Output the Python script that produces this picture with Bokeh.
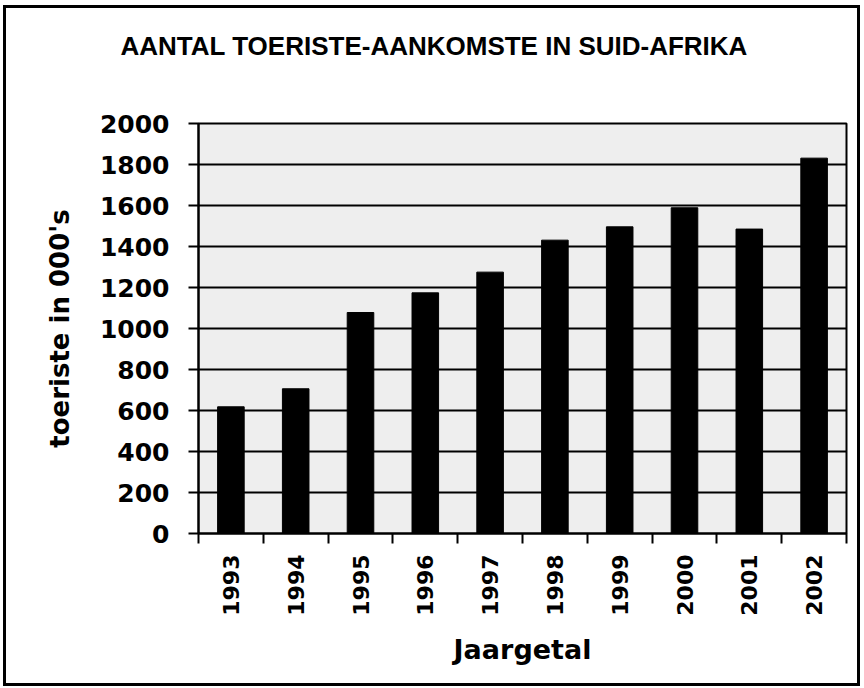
import math
from bokeh.plotting import figure
from bokeh.models import Range1d, FixedTicker, ColumnDataSource
from bokeh.embed import file_html
from bokeh.resources import INLINE

# ---- data ----
years = ["1993", "1994", "1995", "1996", "1997", "1998", "1999", "2000", "2001", "2002"]
tourists = [618, 706, 1078, 1174, 1275, 1431, 1496, 1589, 1485, 1831]
y_ticks = [0, 200, 400, 600, 800, 1000, 1200, 1400, 1600, 1800, 2000]
title_text = "AANTAL TOERISTE-AANKOMSTE IN SUID-AFRIKA"
x_label = "Jaargetal"
y_label = "toeriste in 000's"

n = len(years)
centers = [i + 0.5 for i in range(n)]
boundaries = list(range(n + 1))

src = ColumnDataSource(dict(x=centers, top=tourists, year=years))

p = figure(width=851, height=675,
           x_range=Range1d(0, n), y_range=Range1d(0, 2000),
           output_backend="svg", toolbar_location=None,
           min_border_left=192, min_border_right=11,
           min_border_top=115, min_border_bottom=150)

p.background_fill_color = "#eeeeee"
p.border_fill_color = "white"
p.outline_line_color = "black"
p.outline_line_width = 2

p.vbar(x="x", top="top", bottom=0, width=0.41, source=src,
       fill_color="black", line_color="black")

# title: two blank lines below the text lift it well above the frame
p.title.text = title_text + "\n \n "
p.title.text_font = "Liberation Sans"
p.title.text_font_style = "bold"
p.title.text_font_size = "26px"
p.title.text_color = "black"
p.title.align = "left"
p.title.offset = -78
p.title.standoff = 6

# x axis
xa = p.xaxis[0]
xa.ticker = FixedTicker(ticks=centers, minor_ticks=boundaries)
xa.major_label_overrides = {c: y for c, y in zip(centers, years)}
xa.major_label_orientation = math.pi / 2
xa.major_tick_out = 0
xa.major_tick_in = 0
xa.minor_tick_out = 10
xa.minor_tick_in = 0
xa.minor_tick_line_width = 2
xa.minor_tick_line_color = "black"
xa.axis_line_width = 2
xa.axis_line_color = "black"
xa.major_label_text_font = "DejaVu Sans"
xa.major_label_text_font_style = "bold"
xa.major_label_text_font_size = "22px"
xa.major_label_text_color = "black"
xa.major_label_standoff = 11
xa.axis_label = x_label
xa.axis_label_text_font = "DejaVu Sans"
xa.axis_label_text_font_style = "bold"
xa.axis_label_text_font_size = "27px"
xa.axis_label_text_color = "black"
xa.axis_label_standoff = 15

# y axis
ya = p.yaxis[0]
ya.ticker = FixedTicker(ticks=y_ticks)
ya.minor_tick_line_color = None
ya.major_tick_out = 10
ya.major_tick_in = 0
ya.major_tick_line_width = 2
ya.major_tick_line_color = "black"
ya.axis_line_width = 2
ya.axis_line_color = "black"
ya.major_label_text_font = "DejaVu Sans"
ya.major_label_text_font_style = "bold"
ya.major_label_text_font_size = "25px"
ya.major_label_text_color = "black"
ya.major_label_standoff = 19
ya.axis_label = y_label
ya.axis_label_text_font = "DejaVu Sans"
ya.axis_label_text_font_style = "bold"
ya.axis_label_text_font_size = "26px"
ya.axis_label_text_color = "black"
ya.axis_label_standoff = 22

# grid
p.xgrid.grid_line_color = None
p.ygrid.ticker = FixedTicker(ticks=y_ticks)
p.ygrid.grid_line_color = "black"
p.ygrid.grid_line_width = 2

p.styles = {"margin": "8px 0px 0px 6px", "outline": "3px solid black"}

open("out.html", "w").write(file_html(p, INLINE))
